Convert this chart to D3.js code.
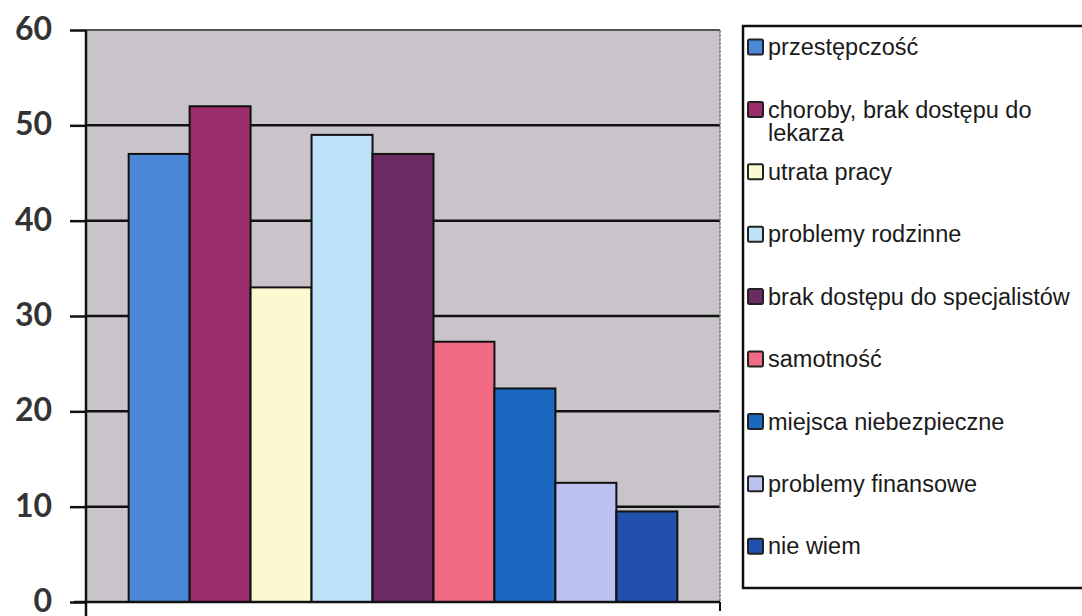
<!DOCTYPE html>
<html>
<head>
<meta charset="utf-8">
<script src="https://cdn.jsdelivr.net/npm/d3@7"></script>
<style>
  body { margin: 0; background: #fff; }
  svg { display: block; }
</style>
</head>
<body>
<svg id="chart" width="1082" height="616"></svg>
<script>
// series (one category, nine series)
var seriesNames = ["przestępczość", "choroby, brak dostępu do lekarza", "utrata pracy",
    "problemy rodzinne", "brak dostępu do specjalistów", "samotność",
    "miejsca niebezpieczne", "problemy finansowe", "nie wiem"];
var seriesValues = [47, 52, 33, 49, 47, 27.3, 22.4, 12.5, 9.5];
var seriesColors = ["#4a87d6", "#9c2d6c", "#fcf8cf", "#bde2f7", "#6c2a62",
    "#f26a83", "#1b68c0", "#bcc2ef", "#2150ad"];
// legend text split into lines
var legendLines = [["przestępczość"], ["choroby, brak dostępu do", "lekarza"], ["utrata pracy"],
    ["problemy rodzinne"], ["brak dostępu do specjalistów"], ["samotność"],
    ["miejsca niebezpieczne"], ["problemy finansowe"], ["nie wiem"]];
var yTicks = [0, 10, 20, 30, 40, 50, 60];

var plot = { left: 86, right: 720, top: 30, bottom: 602 };
var svg = d3.select("#chart");

var x = d3.scaleBand()
    .domain(d3.range(seriesNames.length))
    .range([plot.left, plot.right])
    .paddingInner(0)
    .paddingOuter(0.7);

var y = d3.scaleLinear()
    .domain([0, 60])
    .range([plot.bottom, plot.top]);

// plot area
svg.append("rect")
    .attr("x", plot.left).attr("y", plot.top)
    .attr("width", plot.right - plot.left).attr("height", plot.bottom - plot.top)
    .attr("fill", "#c9c4c9");

// gridlines
svg.append("g").selectAll("line")
    .data(yTicks.filter(function(d) { return d > 0 && d < 60; }))
    .enter().append("line")
    .attr("x1", plot.left).attr("x2", plot.right)
    .attr("y1", function(d) { return y(d); })
    .attr("y2", function(d) { return y(d); })
    .attr("stroke", "#111").attr("stroke-width", 2.5);

// top + right border of plot area
svg.append("line")
    .attr("x1", plot.left).attr("x2", plot.right)
    .attr("y1", y(60)).attr("y2", y(60))
    .attr("stroke", "#555").attr("stroke-width", 2);
svg.append("line")
    .attr("x1", plot.right).attr("x2", plot.right)
    .attr("y1", y(60)).attr("y2", plot.bottom)
    .attr("stroke", "#777").attr("stroke-width", 1.5)
    .attr("stroke-dasharray", "3,1");

// bars
svg.append("g").selectAll("rect")
    .data(seriesValues)
    .enter().append("rect")
    .attr("x", function(d, i) { return x(i); })
    .attr("y", function(d) { return y(d); })
    .attr("width", x.bandwidth())
    .attr("height", function(d) { return y(0) - y(d); })
    .attr("fill", function(d, i) { return seriesColors[i]; })
    .attr("stroke", "#111")
    .attr("stroke-width", 2);

// y axis
var yAxis = d3.axisLeft(y)
    .tickValues(yTicks)
    .tickSize(16)
    .tickPadding(18)
    .tickFormat(d3.format("d"));

var gy = svg.append("g")
    .attr("transform", "translate(" + plot.left + ",0)")
    .call(yAxis);
gy.select(".domain").remove();
gy.selectAll(".tick line").attr("stroke", "#111").attr("stroke-width", 2.5);
gy.selectAll(".tick text")
    .attr("fill", "#333")
    .attr("dy", "0.3em")
    .style("font-family", "Lato, 'Open Sans', sans-serif")
    .style("font-weight", "700")
    .style("font-size", "32px");

// axis lines
svg.append("line")
    .attr("x1", plot.left).attr("x2", plot.left)
    .attr("y1", plot.top).attr("y2", 616)
    .attr("stroke", "#111").attr("stroke-width", 2.5);
svg.append("line")
    .attr("x1", 74).attr("x2", plot.right)
    .attr("y1", y(0)).attr("y2", y(0))
    .attr("stroke", "#111").attr("stroke-width", 2.5);
svg.append("line")
    .attr("x1", plot.right).attr("x2", plot.right)
    .attr("y1", y(0)).attr("y2", y(0) + 9)
    .attr("stroke", "#111").attr("stroke-width", 2);

// legend
var legendTop = 47, legendStep = 62.4;
svg.append("rect")
    .attr("x", 743).attr("y", 26)
    .attr("width", 360).attr("height", 562)
    .attr("fill", "#fff")
    .attr("stroke", "#111").attr("stroke-width", 2.5);

var item = svg.append("g").selectAll("g")
    .data(legendLines)
    .enter().append("g")
    .attr("transform", function(d, i) {
        return "translate(748," + (legendTop + i * legendStep) + ")";
    });

item.append("rect")
    .attr("x", 0).attr("y", -7.5)
    .attr("width", 15).attr("height", 15)
    .attr("rx", 1.5)
    .attr("fill", function(d, i) { return seriesColors[i]; })
    .attr("stroke", "#222").attr("stroke-width", 2);

item.append("text")
    .attr("x", 20)
    .attr("y", 0)
    .attr("fill", "#1a1a1a")
    .style("font-family", "'Liberation Sans', Arial, sans-serif")
    .style("font-size", "23.5px")
    .selectAll("tspan")
    .data(function(d) { return d; })
    .enter().append("tspan")
    .attr("x", 20)
    .attr("dy", function(d, j) { return j === 0 ? "0.35em" : "1.0em"; })
    .text(function(d) { return d; });
</script>
</body>
</html>
